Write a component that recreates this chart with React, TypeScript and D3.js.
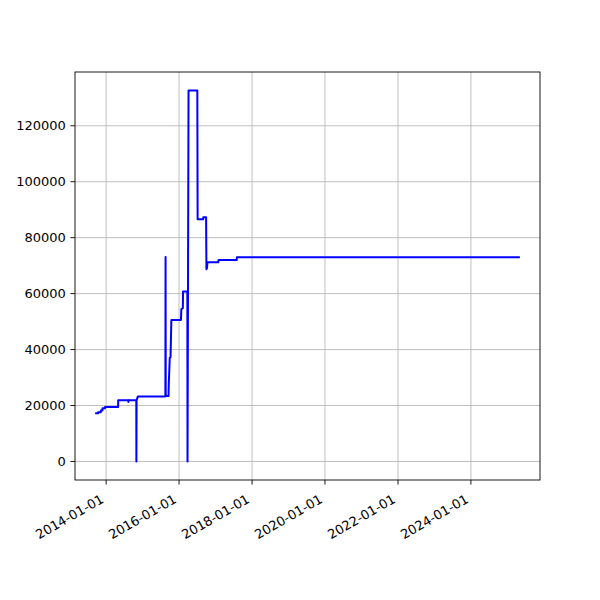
import React from "react";
import * as d3 from "d3";

const dates: string[] = [
  "2013-09-23", "2013-10-12", "2013-10-13", "2013-11-08", "2013-11-09", "2013-11-25", "2013-11-26",
  "2013-12-20", "2013-12-21", "2014-05-01", "2014-05-02", "2014-08-11", "2014-08-12", "2014-08-13",
  "2014-10-30", "2014-10-31", "2014-11-02", "2014-11-15", "2015-08-17", "2015-08-19", "2015-08-21",
  "2015-09-18", "2015-09-20", "2015-09-30", "2015-10-08", "2015-10-16", "2016-01-20", "2016-01-24",
  "2016-02-08", "2016-02-10", "2016-03-24", "2016-03-26", "2016-04-05", "2016-07-02", "2016-07-05",
  "2016-08-30", "2016-08-31", "2016-09-28", "2016-10-01", "2016-10-06", "2016-10-12", "2017-01-28",
  "2017-01-30", "2017-07-31", "2017-08-02", "2025-04-25",
];
const values: number[] = [
  17200, 17200, 17600, 17600, 18200, 18200, 19000,
  19000, 19450, 19450, 21850, 21850, 21300, 21850,
  21850, 0, 21850, 23250, 23250, 73100, 23400,
  23400, 27500, 37000, 37300, 50600, 50600, 54500,
  54800, 60800, 60800, 0, 132600, 132600, 86600,
  86600, 87300, 87300, 68700, 69000, 71200, 71200,
  72000, 72000, 73000, 73000,
];
const xTickLabels: string[] = ["2014-01-01", "2016-01-01", "2018-01-01", "2020-01-01", "2022-01-01", "2024-01-01"];
const yTicks: number[] = [0, 20000, 40000, 60000, 80000, 100000, 120000];

export default function App() {
  const W = 600, H = 600;
  const left = 75, right = 540, top = 72, bottom = 480;
  const parse = d3.utcParse("%Y-%m-%d");
  const pts = dates.map((d, i) => ({ t: parse(d) as Date, v: values[i] }));
  const tExt = d3.extent(pts, (p) => p.t.getTime()) as [number, number];
  const vExt = d3.extent(pts, (p) => p.v) as [number, number];
  const tPad = (tExt[1] - tExt[0]) * 0.05;
  const vPad = (vExt[1] - vExt[0]) * 0.05;
  const x = d3.scaleUtc().domain([new Date(tExt[0] - tPad), new Date(tExt[1] + tPad)]).range([left, right]);
  const y = d3.scaleLinear().domain([vExt[0] - vPad, vExt[1] + vPad]).range([bottom, top]);
  const line = d3.line<{ t: Date; v: number }>().x((p) => x(p.t)).y((p) => y(p.v));
  const fs = 13;
  const tickLen = 4.6;
  const pad = 4.6;
  const asc = 0.76 * fs, desc = 0.24 * fs;
  const xTicks = xTickLabels.map((s) => ({ s, t: parse(s) as Date }));
  return (
    <svg width={W} height={H} style={{ position: "absolute", left: 0, top: 0, background: "#fff" }} fontFamily="DejaVu Sans">
      <rect x={0} y={0} width={W} height={H} fill="#fff" />
      <g>
        {xTicks.map((tk) => (
          <line key={"gx" + tk.s} x1={x(tk.t)} x2={x(tk.t)} y1={top} y2={bottom} stroke="#b0b0b0" strokeWidth={0.8} />
        ))}
        {yTicks.map((v) => (
          <line key={"gy" + v} x1={left} x2={right} y1={y(v)} y2={y(v)} stroke="#b0b0b0" strokeWidth={0.8} />
        ))}
      </g>
      <defs>
        <clipPath id="clip">
          <rect x={left} y={top} width={right - left} height={bottom - top} />
        </clipPath>
      </defs>
      <path d={line(pts) || ""} fill="none" stroke="#0000ff" strokeWidth={2} strokeLinejoin="round" strokeLinecap="square" clipPath="url(#clip)" />
      <rect x={left} y={top} width={right - left} height={bottom - top} fill="none" stroke="#000" strokeWidth={0.9} />
      {yTicks.map((v) => (
        <g key={"ty" + v}>
          <line x1={left - tickLen} x2={left} y1={y(v)} y2={y(v)} stroke="#000" strokeWidth={0.9} />
          <text x={left - tickLen - pad} y={y(v)} dy="0.36em" textAnchor="end" fontSize={fs} fill="#000">
            {String(v)}
          </text>
        </g>
      ))}
      {xTicks.map((tk) => {
        const tx = x(tk.t);
        const ax = tx - 0.5 * desc;
        const ay = bottom + tickLen + pad + 0.866 * asc + 4;
        return (
          <g key={"tx" + tk.s}>
            <line x1={tx} x2={tx} y1={bottom} y2={bottom + tickLen} stroke="#000" strokeWidth={0.9} />
            <text x={ax} y={ay} textAnchor="end" fontSize={fs} fill="#000" transform={`rotate(-30 ${ax} ${ay})`}>
              {tk.s}
            </text>
          </g>
        );
      })}
    </svg>
  );
}
